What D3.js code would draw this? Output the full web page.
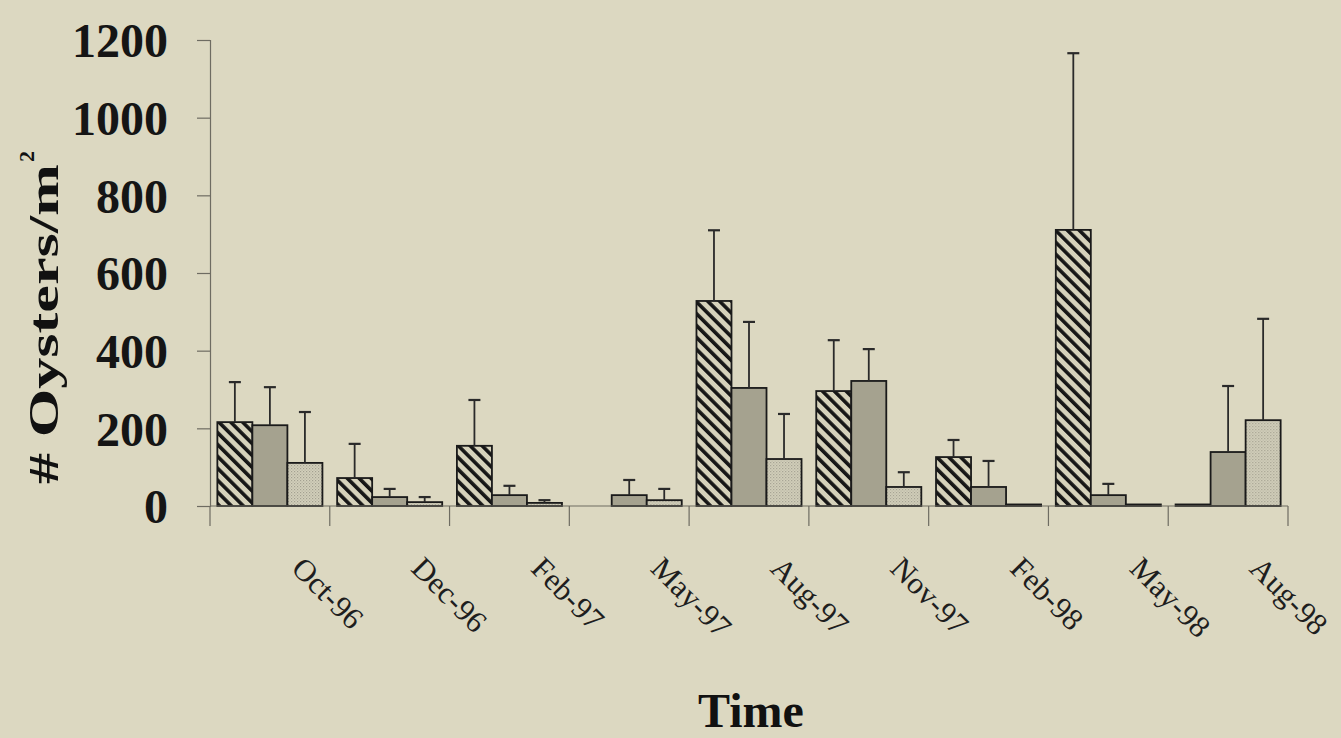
<!DOCTYPE html>
<html>
<head>
<meta charset="utf-8">
<script src="https://cdn.jsdelivr.net/npm/d3@7"></script>
<style>
  html, body { margin: 0; padding: 0; background: #dcd8c1; }
  svg { display: block; }
</style>
</head>
<body>
<svg id="chart" width="1341" height="738"></svg>
<script>
const categories = ["Oct-96","Dec-96","Feb-97","May-97","Aug-97","Nov-97","Feb-98","May-98","Aug-98"];
const seriesNames = ["hatched","dark","light"];
const hatchedValues = [216, 72, 155, 0, 528, 296, 126, 711, 4];
const hatchedErrors = [103, 88, 118, 0, 182, 131, 44, 455, 0];
const darkValues    = [208, 23, 28, 28, 304, 322, 49, 28, 139];
const darkErrors    = [98, 21, 24, 39, 170, 82, 67, 29, 170];
const lightValues   = [111, 10, 8, 15, 121, 49, 4, 4, 221];
const lightErrors   = [131, 13, 7, 29, 116, 38, 0, 0, 261];
const yTicks = [0, 200, 400, 600, 800, 1000, 1200];

const svg = d3.select("#chart");
const bg = "#dcd8c1";
svg.append("rect").attr("width", 1341).attr("height", 738).attr("fill", bg);

// patterns
const defs = svg.append("defs");
const ph = defs.append("pattern").attr("id", "hatch").attr("patternUnits", "userSpaceOnUse")
  .attr("width", 8.4).attr("height", 20).attr("patternTransform", "rotate(-45)");
ph.append("rect").attr("width", 8.4).attr("height", 20).attr("fill", "#d6d2bb");
ph.append("rect").attr("x", 0).attr("width", 3.6).attr("height", 20).attr("fill", "#161616");

const pd = defs.append("pattern").attr("id", "dots").attr("patternUnits", "userSpaceOnUse")
  .attr("width", 3).attr("height", 3);
pd.append("rect").attr("width", 3).attr("height", 3).attr("fill", "#d3d0bb");
pd.append("rect").attr("x", 0).attr("y", 0).attr("width", 1.2).attr("height", 1.2).attr("fill", "#a3a091");
pd.append("rect").attr("x", 1.5).attr("y", 1.5).attr("width", 1.2).attr("height", 1.2).attr("fill", "#b3b0a0");

const fills = { hatched: "url(#hatch)", dark: "#a5a28f", light: "url(#dots)" };

const x0 = d3.scaleBand().domain(categories).range([210, 1288]).paddingInner(0).paddingOuter(0);
const x1 = d3.scaleBand().domain(seriesNames).range([0, x0.bandwidth()]).paddingInner(0).paddingOuter(0.21);
const y = d3.scaleLinear().domain([0, 1200]).range([506, 40]);

const rows = categories.map((c, i) => ({
  cat: c,
  items: [
    { s: "hatched", v: hatchedValues[i], e: hatchedErrors[i] },
    { s: "dark", v: darkValues[i], e: darkErrors[i] },
    { s: "light", v: lightValues[i], e: lightErrors[i] }
  ]
}));

// y axis
const yAxis = svg.append("g").attr("transform", "translate(210,0)")
  .call(d3.axisLeft(y).tickValues(yTicks).tickSize(13).tickPadding(29).tickFormat(d3.format("d")));
yAxis.select(".domain").attr("stroke", "#6e6c62").attr("stroke-width", 1.2);
yAxis.selectAll(".tick line").attr("stroke", "#6e6c62").attr("stroke-width", 1.2);
yAxis.selectAll(".tick text").attr("font-family", "'Liberation Serif', 'Times New Roman', serif")
  .attr("font-weight", "bold").attr("font-size", 48).attr("fill", "#151515").attr("dy", "0.35em");

// groups and bars
const g = svg.append("g");
const groups = g.selectAll("g.grp").data(rows).join("g").attr("class", "grp")
  .attr("transform", d => `translate(${x0(d.cat)},0)`);

groups.selectAll("rect.bar").data(d => d.items.filter(it => it.v > 0)).join("rect").attr("class", "bar")
  .attr("x", d => x1(d.s)).attr("width", x1.bandwidth())
  .attr("y", d => y(d.v)).attr("height", d => y(0) - y(d.v))
  .attr("fill", d => fills[d.s]).attr("stroke", "#1a1a1a").attr("stroke-width", 1.8);

// error bars
const eg = groups.selectAll("g.err").data(d => d.items.filter(it => it.e > 0)).join("g").attr("class", "err");
eg.append("line")
  .attr("x1", d => x1(d.s) + x1.bandwidth() / 2).attr("x2", d => x1(d.s) + x1.bandwidth() / 2)
  .attr("y1", d => y(d.v)).attr("y2", d => y(d.v + d.e))
  .attr("stroke", "#2a2a2a").attr("stroke-width", 1.8);
eg.append("line")
  .attr("x1", d => x1(d.s) + x1.bandwidth() / 2 - 6).attr("x2", d => x1(d.s) + x1.bandwidth() / 2 + 6)
  .attr("y1", d => y(d.v + d.e)).attr("y2", d => y(d.v + d.e))
  .attr("stroke", "#2a2a2a").attr("stroke-width", 2.2);

// x axis baseline and boundary ticks
svg.append("line").attr("x1", x0.range()[0]).attr("x2", x0.range()[1])
  .attr("y1", y(0)).attr("y2", y(0)).attr("stroke", "#6e6c62").attr("stroke-width", 1.2);
const bounds = categories.map(c => x0(c)).concat([x0.range()[1]]);
svg.selectAll("line.bt").data(bounds).join("line").attr("class", "bt")
  .attr("x1", d => d).attr("x2", d => d).attr("y1", y(0)).attr("y2", y(0) + 20)
  .attr("stroke", "#6e6c62").attr("stroke-width", 1.2);

// x labels
svg.selectAll("text.xl").data(categories).join("text").attr("class", "xl")
  .attr("transform", d => `translate(${x0(d) + x0.bandwidth() / 2 + 20},570) rotate(45)`)
  .attr("font-family", "'Liberation Serif', 'Times New Roman', serif")
  .attr("font-size", 31).attr("fill", "#1e1e1e").attr("text-anchor", "start")
  .text(d => d);

// axis titles
svg.append("text").attr("x", 751).attr("y", 727).attr("text-anchor", "middle")
  .attr("font-family", "'Liberation Serif', 'Times New Roman', serif")
  .attr("font-weight", "bold").attr("font-size", 48).attr("fill", "#111").text("Time");

const yl = svg.append("g").attr("transform", "translate(58,484) rotate(-90)");
yl.append("text").attr("x", 0).attr("y", 0).attr("text-anchor", "start")
  .attr("font-family", "'Liberation Serif', 'Times New Roman', serif")
  .attr("font-weight", "bold").attr("font-size", 42).attr("fill", "#111")
  .attr("textLength", 320).attr("lengthAdjust", "spacingAndGlyphs")
  .text("# Oysters/m");
yl.append("text").attr("x", 322).attr("y", -24).attr("text-anchor", "start")
  .attr("font-family", "'Liberation Serif', 'Times New Roman', serif")
  .attr("font-weight", "bold").attr("font-size", 22).attr("fill", "#111").text("2");
</script>
</body>
</html>
